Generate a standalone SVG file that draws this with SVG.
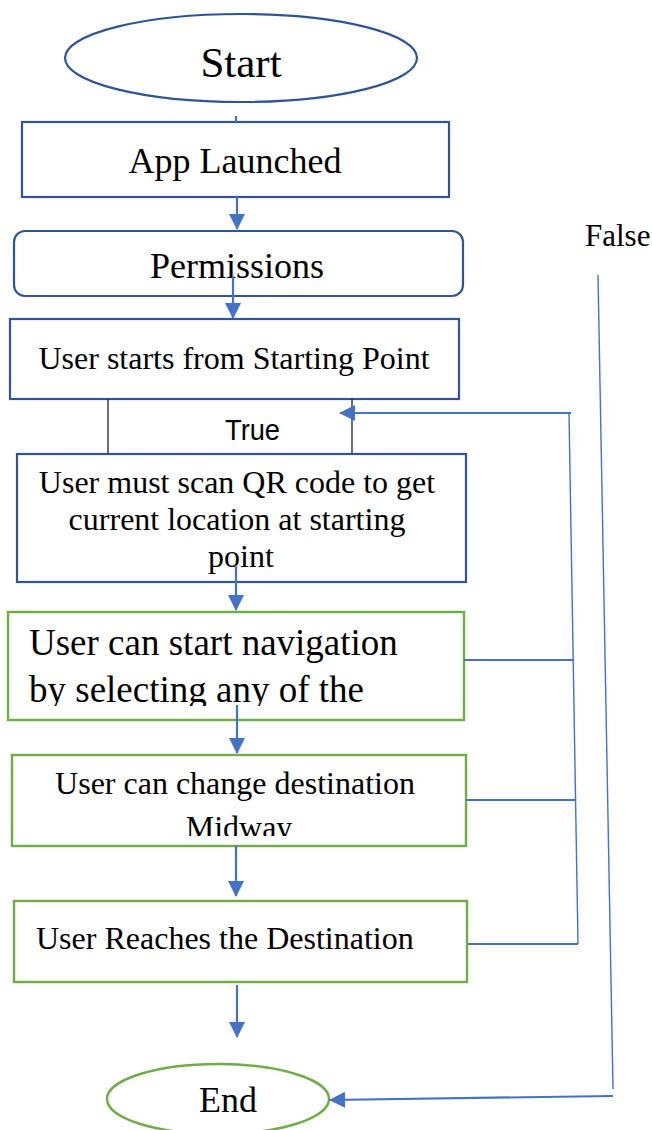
<svg xmlns="http://www.w3.org/2000/svg" width="652" height="1130" viewBox="0 0 652 1130">
<style>
.bg{fill:#ffffff}
.nb{fill:#ffffff;stroke:#2F5597;stroke-width:2.2}
.ng{fill:#ffffff;stroke:#70AD47;stroke-width:2.4}
.tl{font-family:"Liberation Serif","Times New Roman",serif;fill:#000000}
.ts{font-family:"Liberation Sans",Arial,sans-serif;fill:#000000}
.c{fill:none;stroke:#4472C4;stroke-width:2.2}
.ct{fill:none;stroke:#4472C4;stroke-width:1.4}
.tb{fill:none;stroke:#222222;stroke-width:1.3}
</style>
<defs>
<marker id="ah" viewBox="0 0 16 16" refX="15" refY="8" markerWidth="16" markerHeight="16" markerUnits="userSpaceOnUse" orient="auto">
<path d="M0,0 L16,8 L0,16 Z" fill="#4472C4"/>
</marker>
<clipPath id="clipNav"><rect x="8" y="612" width="456" height="94"/></clipPath>
<clipPath id="clipChg"><rect x="12" y="755" width="454" height="81"/></clipPath>
</defs>
<rect class="bg" x="0" y="0" width="652" height="1130"/>

<g id="start">
<ellipse class="nb" cx="241" cy="58" rx="176" ry="44"/>
<text class="tl" x="241" y="77" font-size="43" text-anchor="middle">Start</text>
</g>

<g id="app-launched">
<rect class="nb" x="22" y="122" width="427" height="75"/>
<text class="tl" x="235" y="173" font-size="36" text-anchor="middle">App Launched</text>
</g>

<g id="permissions">
<rect class="nb" x="14" y="231" width="449" height="65" rx="11" ry="11"/>
<text class="tl" x="237" y="278" font-size="36" text-anchor="middle">Permissions</text>
</g>

<g id="starting-point">
<rect class="nb" x="10" y="319" width="449" height="80"/>
<text class="tl" x="234" y="369" font-size="32" text-anchor="middle">User starts from Starting Point</text>
</g>

<g id="true-label">
<path class="tb" d="M108,399 L108,453 M352,399 L352,453"/>
<text class="ts" x="225" y="440" font-size="30" textLength="55" lengthAdjust="spacingAndGlyphs">True</text>
</g>

<g id="scan-qr">
<rect class="nb" x="17" y="454" width="449" height="128"/>
<text class="tl" font-size="32" text-anchor="middle">
<tspan x="241" y="493">User must scan QR code to get</tspan>
<tspan x="241" y="530">current location at starting</tspan>
<tspan x="241" y="567">point</tspan>
</text>
</g>

<g id="start-navigation">
<rect class="ng" x="8" y="612" width="456" height="108"/>
<text class="tl" font-size="37" clip-path="url(#clipNav)">
<tspan x="29" y="655">User can start navigation</tspan>
<tspan x="29" y="702">by selecting any of the</tspan>
</text>
</g>

<g id="change-destination">
<rect class="ng" x="12" y="755" width="454" height="91"/>
<text class="tl" font-size="32" text-anchor="middle" clip-path="url(#clipChg)">
<tspan x="239" y="794">User can change destination</tspan>
<tspan x="239" y="838">Midway</tspan>
</text>
</g>

<g id="reaches-destination">
<rect class="ng" x="14" y="901" width="453" height="81"/>
<text class="tl" x="36" y="949" font-size="32">User Reaches the Destination</text>
</g>

<g id="end">
<ellipse class="ng" cx="218" cy="1099" rx="111" ry="35"/>
<text class="tl" x="228" y="1112" font-size="36" text-anchor="middle">End</text>
</g>

<g id="false-label">
<text class="tl" x="585" y="246" font-size="31">False</text>
</g>

<g id="connectors">
<path class="c" d="M236,116 L236,122"/>
<path class="c" d="M237,197 L237,229" marker-end="url(#ah)"/>
<path class="c" d="M233,276 L233,318" marker-end="url(#ah)"/>
<path class="c" d="M236,565 L236,610" marker-end="url(#ah)"/>
<path class="c" d="M237,705 L237,753" marker-end="url(#ah)"/>
<path class="c" d="M236,846 L236,896" marker-end="url(#ah)"/>
<path class="c" d="M237,985 L237,1037" marker-end="url(#ah)"/>
<path class="c" d="M464,660 L573,660"/>
<path class="c" d="M466,800 L576,800"/>
<path class="c" d="M468,944 L578,944"/>
<path class="ct" d="M569,413 L578,944"/>
<path class="c" d="M571,413 L340,413" marker-end="url(#ah)"/>
<path class="ct" d="M598,275 L613,1089"/>
<path class="c" d="M613,1096 L330,1100" marker-end="url(#ah)"/>
</g>
</svg>
